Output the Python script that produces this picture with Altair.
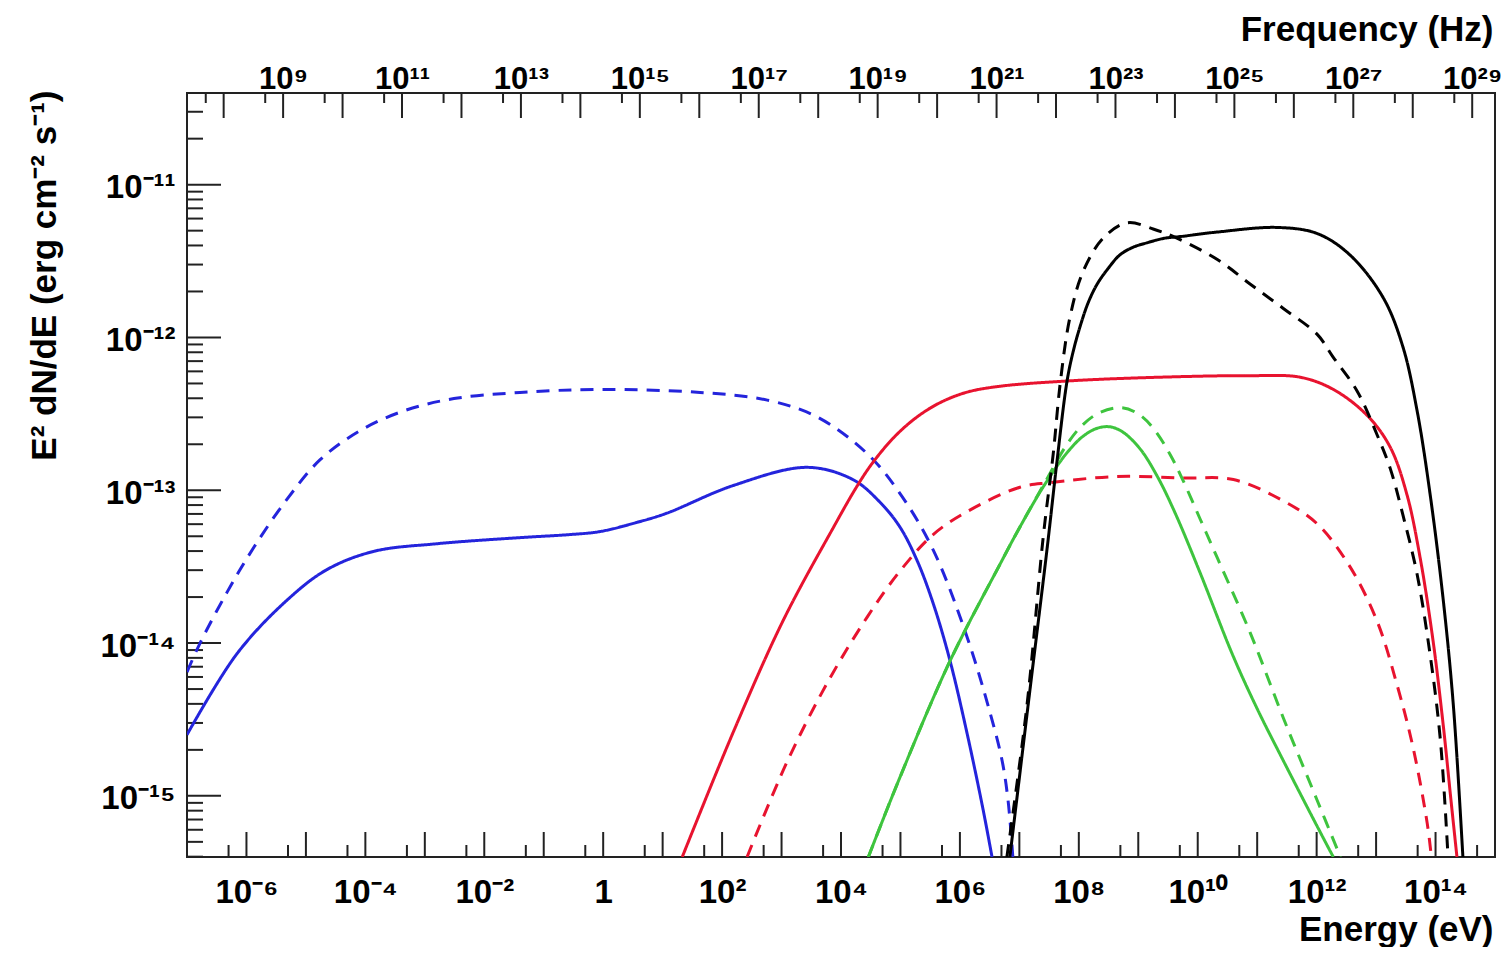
import altair as alt
import pandas as pd

EV_TO_HZ = 2.417989e14  # 1 eV in Hz

# ---- curves: log10(E / eV), log10(E^2 dN/dE / erg cm^-2 s^-1)
blue_solid_logE = [-7.0, -6.16, -5.32, -4.65, -3.86, -2.80, -1.40, -0.56, -0.05, 0.57, 1.07, 2.18, 3.43, 4.20, 4.66, 4.99, 5.28, 5.55, 5.83, 6.12, 6.39, 6.54]
blue_solid_logF = [-14.60, -14.07, -13.72, -13.52, -13.40, -13.35, -13.31, -13.29, -13.27, -13.21, -13.15, -12.97, -12.85, -12.93, -13.08, -13.24, -13.46, -13.74, -14.11, -14.59, -15.09, -15.40]

blue_dash_logE = [-7.0, -6.78, -6.33, -5.87, -5.32, -4.76, -4.09, -3.35, -2.51, -1.40, -0.05, 1.63, 2.76, 3.60, 4.44, 4.99, 5.55, 6.12, 6.51, 6.71, 6.81, 6.89]
blue_dash_logF = [-14.19, -14.00, -13.67, -13.37, -13.06, -12.80, -12.61, -12.48, -12.40, -12.36, -12.34, -12.36, -12.41, -12.52, -12.76, -13.02, -13.39, -13.96, -14.46, -14.77, -15.03, -15.40]

red_solid_logE = [1.33, 2.18, 3.03, 3.87, 4.27, 4.54, 4.91, 5.28, 5.67, 6.12, 6.68, 7.80, 9.20, 10.88, 11.72, 12.28, 12.85, 13.24, 13.52, 13.74, 13.96, 14.13, 14.26, 14.36]
red_solid_logF = [-15.40, -14.59, -13.85, -13.245, -12.973, -12.816, -12.646, -12.52, -12.426, -12.358, -12.319, -12.285, -12.262, -12.25, -12.26, -12.34, -12.51, -12.72, -13.03, -13.44, -13.99, -14.54, -15.03, -15.40]

red_dash_logE = [2.42, 3.09, 3.77, 4.44, 4.99, 5.55, 6.12, 7.01, 7.52, 8.64, 9.75, 10.60, 11.44, 12.01, 12.56, 13.02, 13.35, 13.62, 13.86, 13.93]
red_dash_logF = [-15.40, -14.78, -14.26, -13.83, -13.53, -13.29, -13.14, -12.98, -12.95, -12.91, -12.92, -12.93, -13.07, -13.22, -13.50, -13.86, -14.27, -14.68, -15.18, -15.40]

green_solid_logE = [4.46, 4.99, 5.83, 6.68, 7.01, 7.40, 7.80, 8.07, 8.31, 8.53, 8.74, 9.03, 9.32, 9.62, 10.04, 10.59, 11.00, 11.44, 12.01, 12.28]
green_solid_logF = [-15.40, -14.88, -14.12, -13.48, -13.24, -12.979, -12.755, -12.647, -12.594, -12.585, -12.619, -12.729, -12.909, -13.149, -13.54, -14.08, -14.43, -14.77, -15.20, -15.40]

green_dash_logE = [4.46, 4.99, 5.83, 6.68, 7.01, 7.40, 7.80, 8.07, 8.36, 8.73, 9.03, 9.28, 9.54, 9.75, 10.04, 10.33, 10.88, 11.44, 12.01, 12.40]
green_dash_logF = [-15.40, -14.88, -14.12, -13.48, -13.24, -12.97, -12.70, -12.57, -12.49, -12.46, -12.508, -12.608, -12.769, -12.933, -13.188, -13.443, -13.93, -14.49, -15.03, -15.40]

black_solid_logE = [6.84, 7.18, 7.47, 7.63, 7.80, 7.90, 8.02, 8.16, 8.31, 8.49, 8.69, 8.91, 9.15, 9.45, 9.70, 10.33, 11.34, 12.01, 12.56, 13.12, 13.45, 13.69, 13.91, 14.13, 14.30, 14.46]
black_solid_logF = [-15.40, -14.30, -13.37, -12.82, -12.29, -12.10, -11.93, -11.77, -11.65, -11.55, -11.46, -11.41, -11.38, -11.35, -11.34, -11.31, -11.28, -11.32, -11.46, -11.74, -12.06, -12.48, -13.03, -13.72, -14.41, -15.40]

black_dash_logE = [6.79, 7.13, 7.40, 7.57, 7.69, 7.85, 8.07, 8.41, 8.81, 9.25, 9.65, 10.33, 10.88, 11.44, 12.01, 12.28, 12.68, 13.02, 13.24, 13.45, 13.69, 13.91, 14.08, 14.21]
black_dash_logF = [-15.40, -14.40, -13.31, -12.76, -12.29, -11.87, -11.57, -11.35, -11.25, -11.29, -11.35, -11.49, -11.65, -11.81, -11.98, -12.13, -12.35, -12.64, -12.86, -13.16, -13.55, -14.08, -14.63, -15.40]

curve_list = [
    ("blue solid", "blue", "solid", blue_solid_logE, blue_solid_logF),
    ("blue dashed", "blue", "dashed", blue_dash_logE, blue_dash_logF),
    ("red solid", "red", "solid", red_solid_logE, red_solid_logF),
    ("red dashed", "red", "dashed", red_dash_logE, red_dash_logF),
    ("green solid", "green", "solid", green_solid_logE, green_solid_logF),
    ("green dashed", "green", "dashed", green_dash_logE, green_dash_logF),
    ("black solid", "black", "solid", black_solid_logE, black_solid_logF),
    ("black dashed", "black", "dashed", black_dash_logE, black_dash_logF),
]

# ---- axis ticks
x_label_exps = list(range(-6, 15, 2))
x_major_exps = list(range(-6, 15))
x_minor_exps = list(range(-7, 15))          # 5 x 10^n eV
nu_label_exps = list(range(9, 30, 2))
nu_major_exps = list(range(8, 30))
nu_minor_exps = list(range(7, 29))          # 5 x 10^n Hz
y_label_exps = [-15, -14, -13, -12, -11]
y_minor_mult = [2, 3, 4, 5, 6, 7, 8, 9]

rows = []
for name, colour, dash, le, lf in curve_list:
    for a, b in zip(le, lf):
        rows.append({"curve": name, "colour": colour, "dash": dash, "E": 10.0 ** a, "F": 10.0 ** b})
df = pd.DataFrame(rows)

W, H = 1308, 764
FONT = "Liberation Sans"
xscale = alt.Scale(type="log", domain=[1e-7, 1e15], nice=False)
yscale = alt.Scale(type="log", domain=[3.98e-16, 3.98e-11], nice=False)

SUP = str.maketrans("0123456789-", "⁰¹²³⁴⁵⁶⁷⁸⁹⁻")


def pow_label(n):
    return "1" if n == 0 else "10" + str(n).translate(SUP)


def label_expr(ns, value_expr):
    expr = "''"
    for n in ns:
        expr = f"{value_expr} == {n} ? '{pow_label(n)}' : ({expr})"
    return expr


def axis_style(label_size):
    return dict(
        ticks=False, tickSize=0, domain=False, grid=False,
        labelFont=FONT, labelFontSize=label_size, labelFontWeight="bold", labelColor="black",
        labelFlush=False, labelOverlap=False,
        titleFont=FONT, titleFontSize=35, titleFontWeight="bold", titleColor="black",
    )


bottom_axis = alt.Axis(
    orient="bottom",
    values=[10.0 ** n for n in x_label_exps],
    labelExpr=label_expr(x_label_exps, "round(log(datum.value)/LN10)"),
    labelBaseline="alphabetic", labelPadding=45,
    title="Energy (eV)", titleX=W - 2, titleY=83, titleAlign="right",
    titleBaseline="alphabetic", titleAnchor="end",
    **axis_style(33),
)

top_axis = alt.Axis(
    orient="top",
    values=[10.0 ** n / EV_TO_HZ for n in nu_label_exps],
    labelExpr=label_expr(nu_label_exps, f"round(log(datum.value*{EV_TO_HZ})/LN10)"),
    labelBaseline="alphabetic", labelPadding=5,
    title="Frequency (Hz)", titleX=W - 2, titleY=-53, titleAlign="right",
    titleBaseline="alphabetic", titleAnchor="end",
    **axis_style(31),
)

left_axis = alt.Axis(
    orient="left",
    values=[10.0 ** n for n in y_label_exps],
    labelExpr=label_expr(y_label_exps, "round(log(datum.value)/LN10)"),
    labelPadding=12, labelAlign="right", labelBaseline="middle", labelOffset=3,
    title="E² dN/dE (erg cm⁻² s⁻¹)", titleX=-132, titleY=-3, titleAngle=270,
    titleAlign="right", titleBaseline="alphabetic", titleAnchor="end",
    **axis_style(33),
)

curves = alt.Chart(df).mark_line(strokeWidth=3, interpolate="catmull-rom", clip=True).encode(
    x=alt.X("E:Q", scale=xscale, axis=bottom_axis),
    y=alt.Y("F:Q", scale=yscale, axis=left_axis),
    color=alt.Color("colour:N", scale=alt.Scale(domain=["blue", "red", "green", "black"],
                                                range=["#2424dc", "#e8132f", "#3ec43e", "#000000"]),
                    legend=None),
    strokeDash=alt.StrokeDash("dash:N", scale=alt.Scale(domain=["solid", "dashed"], range=[[1, 0], [13, 9]]),
                              legend=None),
    detail="curve:N",
    order="E:Q",
)

tick_color = "#222222"

bx_major = alt.Chart(pd.DataFrame({"E": [10.0 ** n for n in x_major_exps]})).mark_rule(
    color=tick_color, strokeWidth=2).encode(
    x=alt.X("E:Q", scale=xscale, axis=None), y=alt.value(H), y2=alt.value(H - 25))
bx_minor = alt.Chart(pd.DataFrame({"E": [5 * 10.0 ** n for n in x_minor_exps]})).mark_rule(
    color=tick_color, strokeWidth=2).encode(
    x=alt.X("E:Q", scale=xscale, axis=None), y=alt.value(H), y2=alt.value(H - 12))

tx_major = alt.Chart(pd.DataFrame({"E": [10.0 ** n / EV_TO_HZ for n in nu_major_exps]})).mark_rule(
    color=tick_color, strokeWidth=2).encode(
    x=alt.X("E:Q", scale=xscale, axis=top_axis), y=alt.value(0), y2=alt.value(25))
tx_minor = alt.Chart(pd.DataFrame({"E": [5 * 10.0 ** n / EV_TO_HZ for n in nu_minor_exps]})).mark_rule(
    color=tick_color, strokeWidth=2).encode(
    x=alt.X("E:Q", scale=xscale, axis=None), y=alt.value(0), y2=alt.value(10))

y_minor_vals = [m * 10.0 ** n for n in range(-16, -10) for m in y_minor_mult
                if 3.98e-16 < m * 10.0 ** n < 3.98e-11]
ly_major = alt.Chart(pd.DataFrame({"F": [10.0 ** n for n in y_label_exps]})).mark_rule(
    color=tick_color, strokeWidth=2).encode(
    y=alt.Y("F:Q", scale=yscale, axis=None), x=alt.value(0), x2=alt.value(34))
ly_minor = alt.Chart(pd.DataFrame({"F": y_minor_vals})).mark_rule(
    color=tick_color, strokeWidth=2).encode(
    y=alt.Y("F:Q", scale=yscale, axis=None), x=alt.value(0), x2=alt.value(16))

chart = alt.layer(
    bx_major, bx_minor, tx_major, tx_minor, ly_major, ly_minor, curves
).resolve_axis(x="independent", y="independent").properties(
    width=W, height=H,
    padding={"left": 179, "top": 85, "right": 6, "bottom": 90},
    autosize=alt.AutoSizeParams(type="none"),
).configure(font=FONT).configure_view(stroke="#222222", strokeWidth=2)

chart.save("out.html", embed_options={"renderer": "svg", "actions": False})
